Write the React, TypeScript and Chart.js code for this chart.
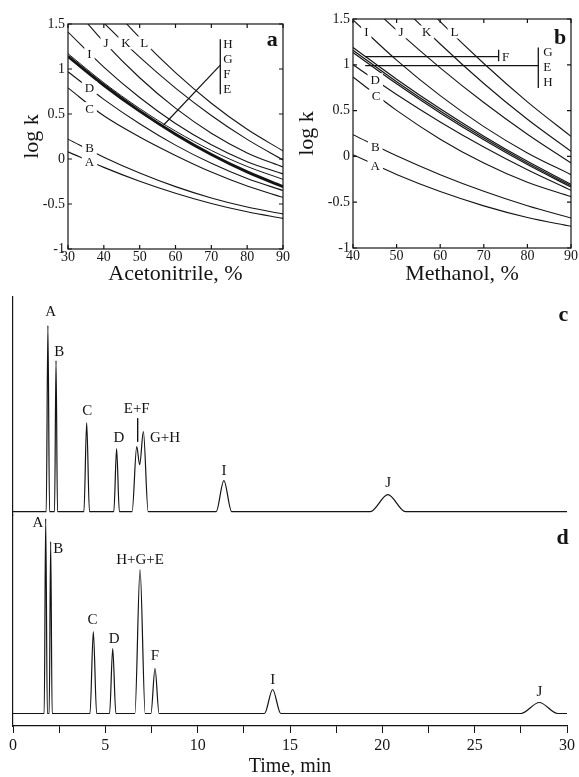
import React, { useEffect, useRef } from 'react';
import { Chart, registerables } from 'chart.js';
Chart.register(...registerables);

const SERIF = '"Liberation Serif", "Times New Roman", Times, serif';
const INK = '#141414';

// ---------- Panel a: log k vs acetonitrile ----------
const ACN_X = [30, 40, 50, 60, 70, 80, 90];
const ACN_L = [2.27, 1.786, 1.348, 0.959, 0.62, 0.33, 0.09];
const ACN_K = [1.93, 1.512, 1.131, 0.788, 0.484, 0.218, -0.01];
const ACN_J = [1.76, 1.301, 0.903, 0.565, 0.287, 0.068, -0.09];
const ACN_I = [1.41, 1.021, 0.683, 0.395, 0.158, -0.03, -0.166];
const ACN_H = [1.17, 0.847, 0.561, 0.31, 0.095, -0.083, -0.226];
const ACN_EFG = [1.14, 0.82, 0.532, 0.276, 0.05, -0.144, -0.307];
const ACN_D = [0.97, 0.663, 0.392, 0.154, -0.048, -0.217, -0.35];
const ACN_C = [0.79, 0.48, 0.245, 0.04, -0.145, -0.3, -0.426];
const ACN_B = [0.22, 0.02, -0.156, -0.307, -0.433, -0.534, -0.61];
const ACN_A = [0.08, -0.093, -0.247, -0.38, -0.494, -0.587, -0.66];
const ACN_BRACKET_X = [72.5, 72.5];
const ACN_BRACKET_Y = [1.33, 0.72];
const ACN_POINTER_X = [72.5, 56.7];
const ACN_POINTER_Y = [1.044, 0.378];

// ---------- Panel b: log k vs methanol ----------
const MEOH_X = [40, 50, 60, 70, 80, 90];
const MEOH_L = [2.505, 1.968, 1.471, 1.014, 0.596, 0.219];
const MEOH_K = [2.208, 1.697, 1.227, 0.796, 0.405, 0.055];
const MEOH_J = [1.821, 1.378, 0.967, 0.588, 0.242, -0.072];
const MEOH_I = [1.49, 1.051, 0.663, 0.325, 0.038, -0.2];
const MEOH_G = [1.19, 0.843, 0.52, 0.221, -0.054, -0.305];
const MEOH_E = [1.16, 0.816, 0.496, 0.2, -0.072, -0.32];
const MEOH_H = [1.135, 0.793, 0.475, 0.181, -0.089, -0.335];
const MEOH_D = [1.0, 0.676, 0.376, 0.102, -0.146, -0.37];
const MEOH_C = [0.867, 0.502, 0.188, -0.073, -0.283, -0.44];
const MEOH_B = [0.237, 0.006, -0.2, -0.381, -0.539, -0.672];
const MEOH_A = [0.019, -0.197, -0.384, -0.54, -0.667, -0.763];
const MEOH_F_BAR_X = [42.8, 73.4];
const MEOH_F_BAR_Y = [1.09, 1.09];
const MEOH_F_TICK_X = [73.4, 73.4];
const MEOH_F_TICK_Y = [1.165, 1.038];
const MEOH_GEH_BAR_X = [42.8, 82.5];
const MEOH_GEH_BAR_Y = [0.99, 0.99];
const MEOH_GEH_TICK_X = [82.5, 82.5];
const MEOH_GEH_TICK_Y = [1.19, 0.747];

// ---------- Panel c: chromatogram ----------
const TIME_C = [0, 1.8, 1.89, 1.98, 2.25, 2.33, 2.41, 3.84, 3.99, 4.14, 5.46, 5.61, 5.76, 6.45, 6.7, 6.86, 7.06, 7.32, 11.0, 11.42, 11.84, 19.35, 20.3, 21.25, 30];
const SIGNAL_C = [0, 0, 186, 0, 0, 151, 0, 0, 89, 0, 0, 63, 0, 0, 65, 47, 80, 0, 0, 31, 0, 0, 17, 0, 0];
const MARK_EF_X = [6.75, 6.75];
const MARK_EF_Y = [93.4, 70];

// ---------- Panel d: chromatogram ----------
const TIME_D = [0, 1.69, 1.77, 1.86, 1.96, 2.04, 2.12, 4.17, 4.35, 4.53, 5.23, 5.4, 5.57, 6.6, 6.88, 7.16, 7.47, 7.69, 7.91, 13.62, 14.06, 14.5, 27.5, 28.5, 29.5, 30];
const SIGNAL_D = [0, 0, 195, 0, 0, 172, 0, 0, 82, 0, 0, 65, 0, 0, 144, 0, 0, 45, 0, 0, 24, 0, 0, 11, 0, 0];
const TIME_TICKS_STEP = 2.5;

type Label = { text: string; x: number; y: number; size: number; bold?: boolean; align?: 'left' | 'center' | 'right'; bg?: boolean };

const ACN_LABELS: Label[] = [
  { text: 'I', x: 36, y: 1.167, size: 13, bg: true },
  { text: 'J', x: 40.6, y: 1.29, size: 13, bg: true },
  { text: 'K', x: 46.2, y: 1.29, size: 13, bg: true },
  { text: 'L', x: 51.3, y: 1.29, size: 13, bg: true },
  { text: 'D', x: 36, y: 0.79, size: 13, bg: true },
  { text: 'C', x: 36, y: 0.56, size: 13, bg: true },
  { text: 'B', x: 36, y: 0.12, size: 13, bg: true },
  { text: 'A', x: 36, y: -0.03, size: 13, bg: true },
  { text: 'H', x: 73.3, y: 1.285, size: 13, align: 'left' },
  { text: 'G', x: 73.3, y: 1.111, size: 13, align: 'left' },
  { text: 'F', x: 73.3, y: 0.952, size: 13, align: 'left' },
  { text: 'E', x: 73.3, y: 0.786, size: 13, align: 'left' },
  { text: 'a', x: 87, y: 1.34, size: 22, bold: true },
];

const MEOH_LABELS: Label[] = [
  { text: 'I', x: 43.05, y: 1.358, size: 13, bg: true },
  { text: 'J', x: 51, y: 1.358, size: 13, bg: true },
  { text: 'K', x: 56.9, y: 1.358, size: 13, bg: true },
  { text: 'L', x: 63.3, y: 1.358, size: 13, bg: true },
  { text: 'F', x: 74.2, y: 1.09, size: 13, align: 'left' },
  { text: 'G', x: 83.65, y: 1.14, size: 13, align: 'left' },
  { text: 'E', x: 83.65, y: 0.983, size: 13, align: 'left' },
  { text: 'H', x: 83.65, y: 0.82, size: 13, align: 'left' },
  { text: 'D', x: 45.1, y: 0.837, size: 13, bg: true },
  { text: 'C', x: 45.3, y: 0.663, size: 13, bg: true },
  { text: 'B', x: 45.1, y: 0.109, size: 13, bg: true },
  { text: 'A', x: 45.1, y: -0.098, size: 13, bg: true },
  { text: 'b', x: 87.5, y: 1.31, size: 22, bold: true },
];

const CHROM_C_LABELS: Label[] = [
  { text: 'A', x: 2.04, y: 201, size: 15 },
  { text: 'B', x: 2.51, y: 161, size: 15 },
  { text: 'C', x: 4.02, y: 101.7, size: 15 },
  { text: 'D', x: 5.74, y: 75, size: 15 },
  { text: 'E+F', x: 6.7, y: 103.4, size: 15 },
  { text: 'G+H', x: 8.23, y: 75, size: 15 },
  { text: 'I', x: 11.42, y: 41.7, size: 15 },
  { text: 'J', x: 20.32, y: 30, size: 15 },
  { text: 'c', x: 29.8, y: 198.4, size: 22, bold: true },
];

const CHROM_D_LABELS: Label[] = [
  { text: 'A', x: 1.35, y: 191.5, size: 15 },
  { text: 'B', x: 2.45, y: 165.2, size: 15 },
  { text: 'H+G+E', x: 6.88, y: 154.2, size: 15 },
  { text: 'C', x: 4.31, y: 94.5, size: 15 },
  { text: 'D', x: 5.48, y: 75.2, size: 15 },
  { text: 'F', x: 7.69, y: 58.5, size: 15 },
  { text: 'I', x: 14.06, y: 34.2, size: 15 },
  { text: 'J', x: 28.5, y: 22.8, size: 15 },
  { text: 'd', x: 29.76, y: 176.8, size: 22, bold: true },
];

function annotPlugin(labels: Label[]) {
  return {
    id: 'annot',
    afterDatasetsDraw(chart: any) {
      const { ctx } = chart;
      const xs = chart.scales.x;
      const ys = chart.scales.y;
      for (const l of labels) {
        const px = xs.getPixelForValue(l.x);
        const py = ys.getPixelForValue(l.y);
        const align = l.align ?? 'center';
        ctx.save();
        ctx.font = `${l.bold ? 'bold ' : ''}${l.size}px ${SERIF}`;
        ctx.textAlign = align;
        ctx.textBaseline = 'alphabetic';
        if (l.bg) {
          const w = ctx.measureText(l.text).width;
          let x0 = px - w / 2;
          if (align === 'left') x0 = px;
          if (align === 'right') x0 = px - w;
          ctx.fillStyle = '#ffffff';
          ctx.fillRect(x0 - 3, py - l.size * 0.5, w + 6, l.size);
        }
        ctx.fillStyle = INK;
        ctx.fillText(l.text, px, py + l.size * 0.33);
        ctx.restore();
      }
    },
  };
}

const framePlugin = {
  id: 'frame',
  afterDatasetsDraw(chart: any) {
    const { ctx, chartArea } = chart;
    const { left, right, top, bottom } = chartArea;
    const xs = chart.scales.x;
    const ys = chart.scales.y;
    const L = 4;
    ctx.save();
    ctx.strokeStyle = INK;
    ctx.lineWidth = 1.2;
    ctx.strokeRect(left, top, right - left, bottom - top);
    ctx.beginPath();
    for (const t of xs.ticks) {
      const p = xs.getPixelForValue(t.value);
      ctx.moveTo(p, bottom);
      ctx.lineTo(p, bottom - L);
      ctx.moveTo(p, top);
      ctx.lineTo(p, top + L);
    }
    for (const t of ys.ticks) {
      const p = ys.getPixelForValue(t.value);
      ctx.moveTo(left, p);
      ctx.lineTo(left + L, p);
      ctx.moveTo(right, p);
      ctx.lineTo(right - L, p);
    }
    ctx.stroke();
    ctx.restore();
  },
};

function line(xs: number[], ys: number[], width = 1.1, smooth = true) {
  return {
    data: xs.map((x, i) => ({ x, y: ys[i] })),
    borderColor: INK,
    borderWidth: width,
    pointRadius: 0,
    pointHoverRadius: 0,
    fill: false,
    tension: 0,
    capBezierPoints: false,
    cubicInterpolationMode: smooth ? 'monotone' : 'default',
  };
}

function logkConfig(p: {
  datasets: any[]; labels: Label[]; xMin: number; xMax: number; xTitle: string;
  padTop: number; padRight: number; yWidth: number; xHeight: number; yTitlePad: number;
}) {
  return {
    type: 'line',
    data: { datasets: p.datasets },
    plugins: [annotPlugin(p.labels), framePlugin],
    options: {
      animation: false,
      responsive: false,
      maintainAspectRatio: false,
      devicePixelRatio: 1,
      events: [],
      layout: { padding: { top: p.padTop, right: p.padRight, bottom: 0, left: 0 } },
      plugins: { legend: { display: false }, tooltip: { enabled: false } },
      scales: {
        x: {
          type: 'linear', min: p.xMin, max: p.xMax,
          afterFit: (s: any) => { s.height = p.xHeight; },
          grid: { display: false, drawTicks: false },
          border: { display: false },
          ticks: { stepSize: 10, padding: 0, autoSkip: false, maxRotation: 0, color: INK, font: { family: SERIF, size: 14 } },
          title: { display: true, text: p.xTitle, color: INK, font: { family: SERIF, size: 22 }, padding: { top: 0, bottom: 3 } },
        },
        y: {
          type: 'linear', min: -1, max: 1.5,
          afterFit: (s: any) => { s.width = p.yWidth; },
          grid: { display: false, drawTicks: false },
          border: { display: false },
          ticks: { stepSize: 0.5, padding: 3, color: INK, font: { family: SERIF, size: 14 }, callback: (v: any) => String(v) },
          title: { display: true, text: 'log k', color: INK, font: { family: SERIF, size: 22 }, padding: { top: p.yTitlePad, bottom: 0 } },
        },
      },
    },
  };
}

function chromConfig(p: {
  datasets: any[]; labels: Label[]; yMin: number; yMax: number; padTop: number; padBottom: number; showTime: boolean;
}) {
  return {
    type: 'line',
    data: { datasets: p.datasets },
    plugins: [annotPlugin(p.labels)],
    options: {
      animation: false,
      responsive: false,
      maintainAspectRatio: false,
      devicePixelRatio: 1,
      events: [],
      layout: { padding: { top: p.padTop, right: 12, bottom: p.padBottom, left: 0 } },
      plugins: { legend: { display: false }, tooltip: { enabled: false } },
      scales: {
        x: p.showTime
          ? {
              type: 'linear', min: 0, max: 30,
              afterFit: (s: any) => { s.height = 51; },
              grid: { display: true, drawOnChartArea: false, drawTicks: true, tickLength: 7, color: INK, lineWidth: 1 },
              border: { display: true, color: INK, width: 1.2 },
              ticks: {
                stepSize: TIME_TICKS_STEP, autoSkip: false, maxRotation: 0, padding: 3, color: INK,
                font: { family: SERIF, size: 16 },
                callback: (v: any) => (Number(v) % 5 === 0 ? String(v) : ''),
              },
              title: { display: true, text: 'Time, min', color: INK, font: { family: SERIF, size: 20 }, padding: { top: 0, bottom: -2 } },
            }
          : { type: 'linear', min: 0, max: 30, display: false },
        y: {
          type: 'linear', min: p.yMin, max: p.yMax,
          afterFit: (s: any) => { s.width = 13; },
          grid: { display: false, drawTicks: false },
          border: { display: true, color: INK, width: 1.2 },
          ticks: { display: false },
        },
      },
    },
  };
}

function ChartBox({ left, top, width, height, make }: { left: number; top: number; width: number; height: number; make: () => any }) {
  const ref = useRef<HTMLCanvasElement>(null);
  useEffect(() => {
    const chart = new Chart(ref.current as HTMLCanvasElement, make());
    return () => chart.destroy();
  }, []);
  return (
    <canvas
      ref={ref}
      width={width}
      height={height}
      style={{ position: 'absolute', left, top, width, height }}
    />
  );
}

const makeA = () =>
  logkConfig({
    datasets: [
      line(ACN_X, ACN_L), line(ACN_X, ACN_K), line(ACN_X, ACN_J), line(ACN_X, ACN_I),
      line(ACN_X, ACN_H, 1.0), line(ACN_X, ACN_EFG, 3),
      line(ACN_X, ACN_D), line(ACN_X, ACN_C), line(ACN_X, ACN_B), line(ACN_X, ACN_A),
      line(ACN_BRACKET_X, ACN_BRACKET_Y, 1.3, false),
      line(ACN_POINTER_X, ACN_POINTER_Y, 1.2, false),
    ],
    labels: ACN_LABELS, xMin: 30, xMax: 90, xTitle: 'Acetonitrile, %',
    padTop: 24, padRight: 17, yWidth: 68, xHeight: 41, yTitlePad: 19,
  });

const makeB = () =>
  logkConfig({
    datasets: [
      line(MEOH_X, MEOH_L), line(MEOH_X, MEOH_K), line(MEOH_X, MEOH_J), line(MEOH_X, MEOH_I),
      line(MEOH_X, MEOH_G, 1.2), line(MEOH_X, MEOH_E, 1.2), line(MEOH_X, MEOH_H, 1.2),
      line(MEOH_X, MEOH_D), line(MEOH_X, MEOH_C), line(MEOH_X, MEOH_B), line(MEOH_X, MEOH_A),
      line(MEOH_F_BAR_X, MEOH_F_BAR_Y, 1.3, false),
      line(MEOH_F_TICK_X, MEOH_F_TICK_Y, 1.3, false),
      line(MEOH_GEH_BAR_X, MEOH_GEH_BAR_Y, 1.3, false),
      line(MEOH_GEH_TICK_X, MEOH_GEH_TICK_Y, 1.3, false),
    ],
    labels: MEOH_LABELS, xMin: 40, xMax: 90, xTitle: 'Methanol, %',
    padTop: 19, padRight: 8, yWidth: 63, xHeight: 42, yTitlePad: 4,
  });

const makeC = () =>
  chromConfig({
    datasets: [line(TIME_C, SIGNAL_C, 1.2), line(MARK_EF_X, MARK_EF_Y, 1, false)],
    labels: CHROM_C_LABELS, yMin: -3.3, yMax: 214.7, padTop: 7, padBottom: 1, showTime: false,
  });

const makeD = () =>
  chromConfig({
    datasets: [line(TIME_D, SIGNAL_D, 1.2)],
    labels: CHROM_D_LABELS, yMin: -12.5, yMax: 198.5, padTop: 10, padBottom: 0, showTime: true,
  });

export default function App() {
  return (
    <div style={{ position: 'absolute', left: 0, top: 0, width: 579, height: 777, background: '#ffffff', overflow: 'hidden' }}>
      <ChartBox left={0} top={0} width={300} height={290} make={makeA} />
      <ChartBox left={290} top={0} width={289} height={290} make={makeB} />
      <ChartBox left={0} top={290} width={579} height={226} make={makeC} />
      <ChartBox left={0} top={505} width={579} height={272} make={makeD} />
    </div>
  );
}
